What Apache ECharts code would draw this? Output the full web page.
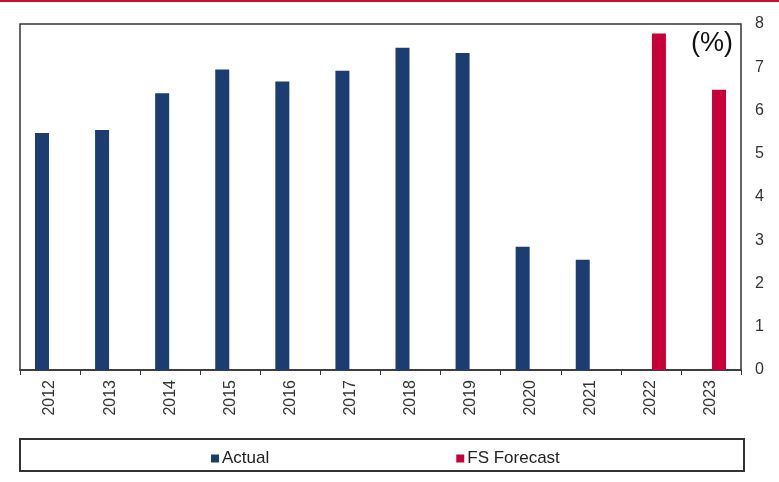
<!DOCTYPE html>
<html>
<head>
<meta charset="utf-8">
<script src="https://cdn.jsdelivr.net/npm/echarts@6/dist/echarts.min.js"></script>
<style>
  html, body { margin: 0; padding: 0; background: #fff; }
  #main { width: 779px; height: 482px; }
</style>
</head>
<body>
<div id="main"></div>
<script>
var years = ['2012', '2013', '2014', '2015', '2016', '2017', '2018', '2019', '2020', '2021', '2022', '2023'];
var actual = [5.48, 5.55, 6.4, 6.95, 6.67, 6.92, 7.45, 7.33, 2.85, 2.55, null, null];
var forecast = [null, null, null, null, null, null, null, null, null, null, 7.78, 6.48];

var myChart = echarts.init(document.getElementById('main'));

var option = {
    animation: false,
    textStyle: { fontFamily: 'Liberation Sans, Arial, sans-serif' },
    grid: {
        left: 20,
        right: 38,
        top: 24,
        bottom: 112,
        show: true,
        borderColor: '#333',
        borderWidth: 1.5
    },
    legend: {
        left: 206,
        top: 445,
        itemWidth: 8,
        itemHeight: 8,
        itemGap: 187,
        itemStyle: { borderWidth: 0 },
        icon: 'rect',
        textStyle: { fontSize: 17, color: '#222', padding: [0, 0, 0, -2] },
        data: ['Actual', 'FS Forecast']
    },
    xAxis: {
        type: 'category',
        data: years,
        axisLine: { lineStyle: { color: '#333', width: 1.5 } },
        axisTick: { show: true, length: 5, lineStyle: { color: '#333' } },
        axisLabel: { rotate: 90, fontSize: 16, color: '#333', margin: 10 }
    },
    yAxis: {
        type: 'value',
        position: 'right',
        min: 0,
        max: 8,
        interval: 1,
        splitLine: { show: false },
        axisLine: { show: false },
        axisTick: { show: false },
        axisLabel: { fontSize: 16, color: '#333', margin: 14 }
    },
    graphic: [
        { type: 'rect', shape: { x: 0, y: 0, width: 779, height: 2 }, style: { fill: '#c8102e' } },
        { type: 'rect', shape: { x: 20, y: 439, width: 724, height: 32 }, style: { fill: 'none', stroke: '#333', lineWidth: 2 } },
        { type: 'text', left: 691, top: 30, style: { text: '(%)', fontSize: 27, fill: '#111', fontFamily: 'Liberation Sans, Arial, sans-serif' } }
    ],
    series: [
        {
            name: 'Actual',
            type: 'bar',
            barWidth: 14,
            barGap: '15%',
            itemStyle: { color: '#1b3d72' },
            data: actual
        },
        {
            name: 'FS Forecast',
            type: 'bar',
            barWidth: 14,
            itemStyle: { color: '#c8003a' },
            data: forecast
        }
    ]
};
myChart.setOption(option);
</script>
</body>
</html>
